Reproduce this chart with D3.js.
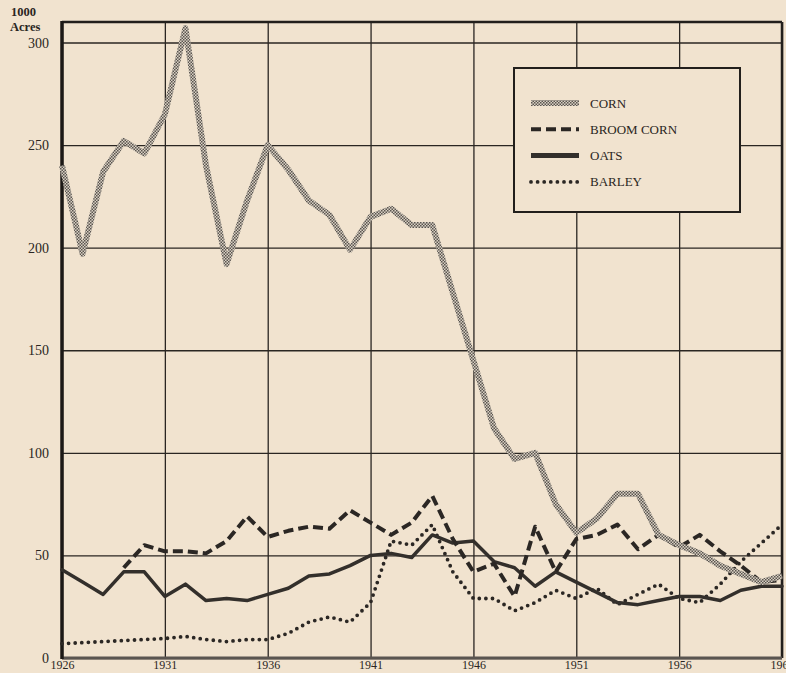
<!DOCTYPE html>
<html lang="en">
  <head>
    <meta charset="UTF-8" />
    <title>Acreage chart</title>
    <style>
      body { margin: 0; background: #f1e3cf; }
      svg { display: block; }
      .axis text { font-family: 'Liberation Serif', 'DejaVu Serif', serif; font-size: 14px; fill: #2a2622; }
      .axis path { display: none; }
      .axis line { stroke: #2a2622; stroke-width: 1.3; }
      .xaxis text { font-size: 12px; }
      .legend text { font-family: 'Liberation Serif', 'DejaVu Serif', serif; font-size: 13px; fill: #2a2622; }
    </style>
    <script src="https://d3js.org/d3.v7.min.js"></script>
  </head>
  <body>
    <svg width="786" height="673"></svg>
    <script>
      var years = [1926, 1927, 1928, 1929, 1930, 1931, 1932, 1933, 1934, 1935, 1936, 1937,
        1938, 1939, 1940, 1941, 1942, 1943, 1944, 1945, 1946, 1947, 1948, 1949,
        1950, 1951, 1952, 1953, 1954, 1955, 1956, 1957, 1958, 1959, 1960, 1961]

      var corn = [240, 197, 237, 252, 246, 265, 307, 240, 192, 223, 250, 238,
        223, 216, 199, 215, 219, 211, 211, 178, 145, 112, 97, 100,
        75, 61, 68, 80, 80, 60, 55, 51, 45, 41, 37, 40]

      var broomCorn = [null, null, null, 44, 55, 52, 52, 51, 57, 69, 59, 62,
        64, 63, 72, 66, 60, 66, 79, 58, 42, 46, 30, 64,
        42, 58, 60, 65, 53, 60, 54, 60, 52, 45, 37, 38]

      var oats = [43, 37, 31, 42, 42, 30, 36, 28, 29, 28, 31, 34,
        40, 41, 45, 50, 51, 49, 60, 56, 57, 47, 44, 35,
        42, 37, 32, 27, 26, 28, 30, 30, 28, 33, 35, 35]

      var barley = [7, 7.5, 8, 8.5, 9, 9.5, 10.5, 9, 8, 9, 9, 12,
        17.5, 20, 17.5, 27, 57, 55, 65, 42, 29, 29, 23, 27,
        33, 29, 34, 26, 31, 36, 29, 27, 36, 47, 56, 65]

      var seriesNames = ['CORN', 'BROOM CORN', 'OATS', 'BARLEY']
      var yTicks = [0, 50, 100, 150, 200, 250, 300]
      var xTicks = [1926, 1931, 1936, 1941, 1946, 1951, 1956, 1961]

      var plotLeft = 62, plotRight = 782, plotTop = 22, plotBottom = 658

      var x = d3.scaleLinear().domain([1926, 1961]).range([plotLeft, plotRight])
      var y = d3.scaleLinear().domain([0, 310]).range([plotBottom, plotTop])

      var svg = d3.select('svg')
      svg.append('rect').attr('width', 786).attr('height', 673).attr('fill', '#f1e3cf')

      // stippled pattern for the corn line
      var defs = svg.append('defs')
      var pat = defs.append('pattern')
        .attr('id', 'stipple')
        .attr('patternUnits', 'userSpaceOnUse')
        .attr('width', 3).attr('height', 3)
      pat.append('rect').attr('width', 3).attr('height', 3).attr('fill', '#d9d0c3')
      pat.append('rect').attr('width', 1.5).attr('height', 1.5).attr('fill', '#5a554f')
      pat.append('rect').attr('x', 1.5).attr('y', 1.5).attr('width', 1.5).attr('height', 1.5).attr('fill', '#5a554f')

      // horizontal grid + labels
      svg.append('g')
        .attr('class', 'axis')
        .attr('transform', `translate(${plotLeft},0)`)
        .call(d3.axisLeft(y).tickValues(yTicks).tickSize(-(plotRight - plotLeft)).tickPadding(13).tickFormat(d3.format('d')))

      // vertical grid + year labels
      svg.append('g')
        .attr('class', 'axis xaxis')
        .attr('transform', `translate(0,${plotBottom})`)
        .call(d3.axisBottom(x).tickValues(xTicks).tickSize(-(plotBottom - plotTop)).tickPadding(2).tickFormat(d3.format('d')))

      // frame
      svg.append('line').attr('x1', plotLeft).attr('x2', plotRight).attr('y1', plotTop).attr('y2', plotTop)
        .attr('stroke', '#221f1c').attr('stroke-width', 2.5)
      svg.append('line').attr('x1', plotRight).attr('x2', plotRight).attr('y1', plotTop).attr('y2', plotBottom)
        .attr('stroke', '#221f1c').attr('stroke-width', 2.5)
      svg.append('line').attr('x1', plotLeft).attr('x2', plotRight).attr('y1', plotBottom).attr('y2', plotBottom)
        .attr('stroke', '#5a5550').attr('stroke-width', 3)
      svg.append('line').attr('x1', plotLeft).attr('x2', plotLeft).attr('y1', plotTop - 1).attr('y2', plotBottom + 1)
        .attr('stroke', '#1c1916').attr('stroke-width', 3.5)

      svg.append('text').attr('x', 11).attr('y', 16)
        .attr('font-family', 'Liberation Serif, serif').attr('font-size', 12.5).attr('font-weight', 'bold')
        .attr('fill', '#2a2622').text('1000')
      svg.append('text').attr('x', 10).attr('y', 31)
        .attr('font-family', 'Liberation Serif, serif').attr('font-size', 12.5).attr('font-weight', 'bold')
        .attr('fill', '#2a2622').text('Acres')

      var styles = [
        { stroke: 'url(#stipple)', width: 6, dash: null, cap: 'butt' },
        { stroke: '#2b2724', width: 4, dash: '10 5', cap: 'butt' },
        { stroke: '#332f2b', width: 3.5, dash: null, cap: 'round' },
        { stroke: '#2b2724', width: 3.8, dash: '0 6.6', cap: 'round' }
      ]
      var allSeries = [corn, broomCorn, oats, barley]

      var line = d3.line()
        .defined(function(d) { return d[1] != null })
        .x(function(d) { return x(d[0]) })
        .y(function(d) { return y(d[1]) })

      // draw barley first, corn last (corn sits above)
      var order = [3, 2, 1, 0]
      order.forEach(function(i) {
        var pts = years.map(function(yr, j) { return [yr, allSeries[i][j]] })
        svg.append('path')
          .datum(pts)
          .attr('d', line)
          .attr('fill', 'none')
          .attr('stroke', styles[i].stroke)
          .attr('stroke-width', styles[i].width)
          .attr('stroke-dasharray', styles[i].dash)
          .attr('stroke-linecap', styles[i].cap)
          .attr('stroke-linejoin', 'round')
      })

      // legend
      var lg = svg.append('g').attr('class', 'legend')
      lg.append('rect')
        .attr('x', 514).attr('y', 68).attr('width', 226).attr('height', 144)
        .attr('fill', '#f1e3cf').attr('stroke', '#221f1c').attr('stroke-width', 2)
      seriesNames.forEach(function(name, i) {
        var ly = 103 + i * 26.3
        lg.append('line')
          .attr('x1', 531).attr('x2', 579).attr('y1', ly).attr('y2', ly)
          .attr('stroke', styles[i].stroke)
          .attr('stroke-width', i === 0 ? 6 : i === 2 ? 5 : styles[i].width)
          .attr('stroke-dasharray', styles[i].dash)
          .attr('stroke-linecap', i === 3 ? 'round' : 'butt')
        lg.append('text').attr('x', 590).attr('y', ly + 4.5).text(name)
      })
    </script>
  </body>
</html>
